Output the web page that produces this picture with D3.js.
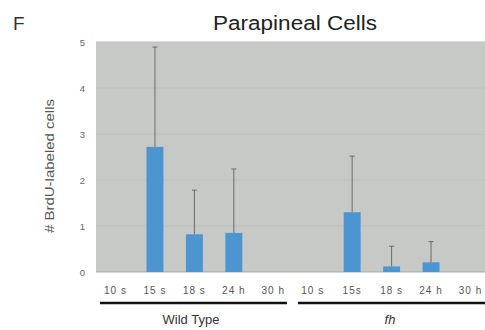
<!DOCTYPE html>
<html>
<head>
<meta charset="utf-8">
<script src="https://cdn.jsdelivr.net/npm/d3@7"></script>
<style>
  body { margin: 0; background: #fff; }
  svg { display: block; font-family: "Liberation Sans", Arial, sans-serif; }
</style>
</head>
<body>
<svg width="485" height="330"></svg>
<script>
// stages per genotype, then the mean and upper error of each bar
var stages = ['10 s', '15 s', '18 s', '24 h', '30 h'];
var fhStages = ['10 s', '15s', '18 s', '24 h', '30 h'];
var groups = ['Wild Type', 'fh'];
var wtValues = [0, 2.72, 0.82, 0.85, 0];
var wtErrors = [0, 2.17, 0.96, 1.39, 0];
var fhValues = [0, 1.30, 0.12, 0.21, 0];
var fhErrors = [0, 1.22, 0.44, 0.45, 0];
var yTicks = [0, 1, 2, 3, 4, 5];

var bars = [];
stages.forEach(function(s, i){
  bars.push({key: 'wt' + i, label: s, v: wtValues[i], e: wtErrors[i], g: 0});
});
fhStages.forEach(function(s, i){
  bars.push({key: 'fh' + i, label: s, v: fhValues[i], e: fhErrors[i], g: 1});
});

var svg = d3.select('svg');
var plotL = 96, plotR = 485, plotT = 42, plotB = 272;

var x = d3.scaleBand()
  .domain(bars.map(function(d){ return d.key }))
  .range([plotL, plotR + 5])
  .paddingInner(0.57)
  .paddingOuter(0.28);

var y = d3.scaleLinear().domain([0, 5]).range([plotB, plotT]);

// title + panel letter
svg.append('text').attr('x', 13).attr('y', 30)
  .style('font-size', '19px').style('fill', '#333').text('F');
svg.append('text').attr('x', 213).attr('y', 30)
  .attr('textLength', 164).attr('lengthAdjust', 'spacingAndGlyphs')
  .style('font-size', '20px').style('fill', '#222').text('Parapineal Cells');

// plot background
svg.append('rect')
  .attr('x', plotL).attr('y', plotT)
  .attr('width', plotR - plotL).attr('height', plotB - plotT)
  .style('fill', '#c6c9c5');

svg.selectAll('line.grid')
  .data(yTicks.slice(1))
  .enter().append('line')
  .attr('class', 'grid')
  .attr('x1', plotL).attr('x2', plotR)
  .attr('y1', function(d){ return y(d) })
  .attr('y2', function(d){ return y(d) })
  .style('stroke', '#bcbfbb').style('stroke-width', 1);

svg.append('line')
  .attr('x1', plotL).attr('x2', plotR)
  .attr('y1', plotB).attr('y2', plotB)
  .style('stroke', '#a9aca8');

// y axis
var yAxis = svg.append('g')
  .attr('transform', 'translate(' + plotL + ',0)')
  .call(d3.axisLeft(y).tickValues(yTicks).tickFormat(d3.format('d')).tickSize(0).tickPadding(11));
yAxis.select('.domain').remove();
yAxis.selectAll('text').style('font-size', '9.5px').style('fill', '#666');

svg.append('text')
  .attr('transform', 'translate(54,166) rotate(-90)')
  .attr('text-anchor', 'middle')
  .attr('textLength', 134).attr('lengthAdjust', 'spacingAndGlyphs')
  .style('font-size', '12.5px').style('fill', '#555')
  .text('# BrdU-labeled cells');

// bars
svg.selectAll('rect.bar')
  .data(bars.filter(function(d){ return d.v > 0 }))
  .enter().append('rect')
  .attr('class', 'bar')
  .attr('x', function(d){ return x(d.key) })
  .attr('width', x.bandwidth())
  .attr('y', function(d){ return y(d.v) })
  .attr('height', function(d){ return y(0) - y(d.v) })
  .style('fill', '#4d95d0');

// error bars
var err = svg.selectAll('g.err')
  .data(bars.filter(function(d){ return d.e > 0 }))
  .enter().append('g')
  .attr('class', 'err')
  .style('stroke', '#6a6c6a').style('stroke-width', 1);

err.append('line')
  .attr('x1', function(d){ return x(d.key) + x.bandwidth() / 2 })
  .attr('x2', function(d){ return x(d.key) + x.bandwidth() / 2 })
  .attr('y1', function(d){ return y(d.v) })
  .attr('y2', function(d){ return y(d.v + d.e) });

err.append('line')
  .attr('x1', function(d){ return x(d.key) + x.bandwidth() / 2 - 2.5 })
  .attr('x2', function(d){ return x(d.key) + x.bandwidth() / 2 + 2.5 })
  .attr('y1', function(d){ return y(d.v + d.e) })
  .attr('y2', function(d){ return y(d.v + d.e) });

// x labels
svg.selectAll('text.xl')
  .data(bars)
  .enter().append('text')
  .attr('class', 'xl')
  .attr('x', function(d){ return x(d.key) + x.bandwidth() / 2 })
  .attr('y', 294)
  .attr('text-anchor', 'middle')
  .style('font-size', '10px').style('letter-spacing', '1px').style('fill', '#555')
  .text(function(d){ return d.label });

// group underlines + names
var groupSpan = [[100, 287], [298, 485]];
svg.selectAll('line.grp')
  .data(groups)
  .enter().append('line')
  .attr('x1', function(d, i){ return groupSpan[i][0] })
  .attr('x2', function(d, i){ return groupSpan[i][1] })
  .attr('y1', 303).attr('y2', 303)
  .style('stroke', '#111').style('stroke-width', 2.5);

svg.selectAll('text.grp')
  .data(groups)
  .enter().append('text')
  .attr('x', function(d, i){ return i == 0 ? 191 : 390 })
  .attr('y', 324)
  .attr('text-anchor', 'middle')
  .style('font-size', '13px').style('fill', '#333')
  .style('font-style', function(d, i){ return i == 1 ? 'italic' : 'normal' })
  .text(function(d){ return d });
</script>
</body>
</html>
